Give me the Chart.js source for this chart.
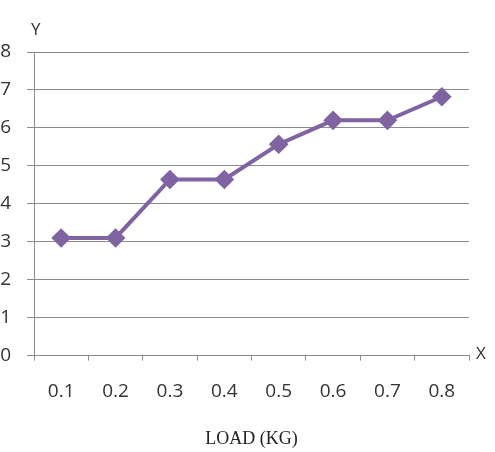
<!DOCTYPE html>
<html>
<head>
<meta charset="utf-8">
<script src="https://cdn.jsdelivr.net/npm/chart.js@4/dist/chart.umd.min.js"></script>
<style>
  html, body { margin: 0; padding: 0; background: #fff; }
  #wrap { width: 495px; height: 452px; }
</style>
</head>
<body>
<div id="wrap"><canvas id="chart"></canvas></div>
<script>
// values
const loads = ["0.1", "0.2", "0.3", "0.4", "0.5", "0.6", "0.7", "0.8"];
const yValues = [3.1, 3.1, 4.64, 4.64, 5.57, 6.2, 6.2, 6.82];
const yTicks = [0, 1, 2, 3, 4, 5, 6, 7, 8];

const lineColor = "#8064a2";
const textColor = "#333";

// draws the little "Y" and "X" axis names at the axis ends
const axisNames = {
    id: "axisNames",
    afterDraw(chart) {
        const ctx = chart.ctx;
        const area = chart.chartArea;
        ctx.save();
        ctx.fillStyle = textColor;
        ctx.font = "17px 'Open Sans'";
        ctx.textBaseline = "middle";
        ctx.textAlign = "left";
        ctx.fillText("Y", area.left - 3, area.top - 22);
        ctx.fillText("X", area.right + 7, area.bottom - 1);
        ctx.restore();
    }
};

new Chart(document.getElementById("chart").getContext("2d"), {
    type: "line",
    data: {
        labels: loads,
        datasets: [{
            data: yValues,
            borderColor: lineColor,
            backgroundColor: lineColor,
            borderWidth: 4,
            pointStyle: "rectRot",
            pointRadius: 7,
            pointHoverRadius: 7,
            tension: 0
        }]
    },
    options: {
        responsive: true,
        maintainAspectRatio: false,
        animation: false,
        layout: { padding: { top: 52, right: 26, left: 0, bottom: 2 } },
        plugins: {
            legend: { display: false },
            tooltip: { enabled: false }
        },
        scales: {
            x: {
                type: "category",
                offset: true,
                grid: {
                    offset: true,
                    drawOnChartArea: false,
                    tickLength: 5,
                    color: "#8c8c8c"
                },
                border: { color: "#8c8c8c" },
                ticks: {
                    color: textColor,
                    font: { family: "'Open Sans'", size: 19 },
                    padding: 20,
                    maxRotation: 0
                },
                title: {
                    display: true,
                    text: "LOAD (KG)",
                    color: "#222",
                    font: { family: "'Liberation Serif'", size: 18 },
                    padding: { top: 5, bottom: 0 }
                }
            },
            y: {
                min: 0,
                max: 8,
                afterBuildTicks(axis) {
                    axis.ticks = yTicks.map(v => ({ value: v }));
                },
                afterFit(axis) {
                    axis.width = 34;
                },
                grid: {
                    color: "#8c8c8c",
                    tickLength: 7
                },
                border: { color: "#8c8c8c" },
                ticks: {
                    color: textColor,
                    font: { family: "'Open Sans'", size: 19 },
                    padding: 16
                }
            }
        }
    },
    plugins: [axisNames]
});
</script>
</body>
</html>
